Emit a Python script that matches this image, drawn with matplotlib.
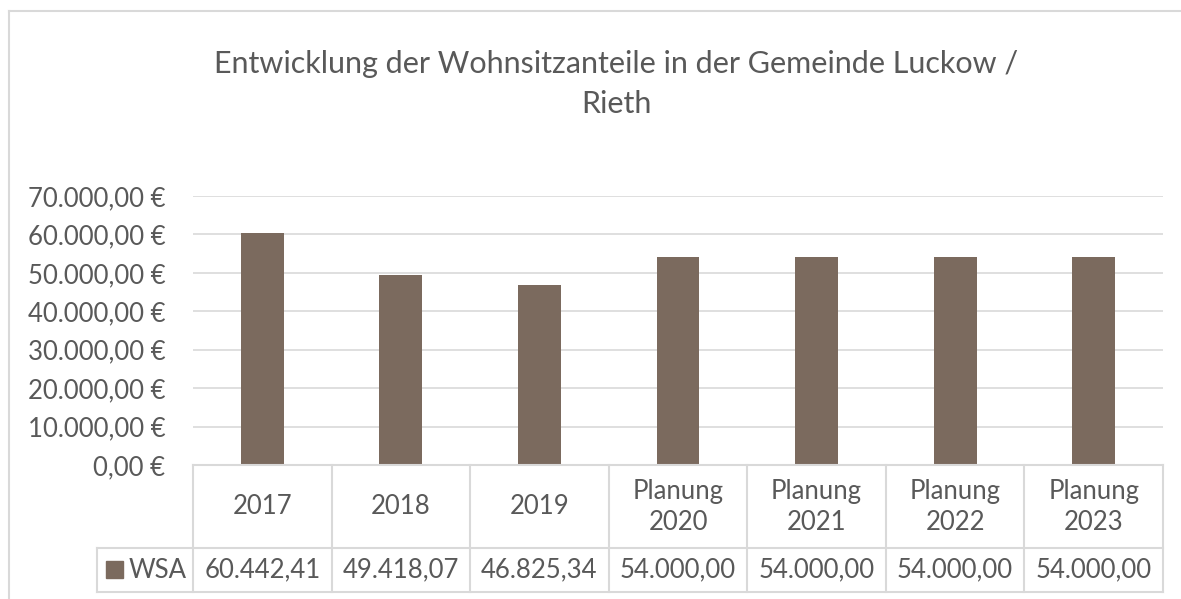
import matplotlib.pyplot as plt
import matplotlib.ticker as mticker
from matplotlib.lines import Line2D
from matplotlib.patches import Rectangle

# data
kategorien = ['2017', '2018', '2019', 'Planung\n2020', 'Planung\n2021', 'Planung\n2022', 'Planung\n2023']
wsa = [60442.41, 49418.07, 46825.34, 54000.00, 54000.00, 54000.00, 54000.00]
serie = 'WSA'
titel = 'Entwicklung der Wohnsitzanteile in der Gemeinde Luckow /\nRieth'

plt.rcParams['font.family'] = ['Lato', 'DejaVu Sans']
W, H = 1181, 599
grau = '#595959'
linie = '#D9D9D9'
farbe = '#7B6A5E'
fs = 18.5

def fx(px):
    return px / W

def fy(py):
    return 1 - py / H

def de(v, euro=True):
    s = f'{v:,.2f}'.replace(',', 'X').replace('.', ',').replace('X', '.')
    return s + ' €' if euro else s

fig = plt.figure(figsize=(W / 100, H / 100), dpi=100)

# plot area in pixel coords
x0, x1, ytop, ybot = 193, 1163, 196, 465
ax = fig.add_axes([fx(x0), fy(ybot), fx(x1 - x0), (ybot - ytop) / H])
pos = range(len(wsa))
ax.bar(pos, wsa, width=0.31, color=farbe, zorder=3)
ax.set_xlim(-0.5, len(wsa) - 0.5)
ax.set_ylim(0, 70000)
ax.yaxis.set_major_locator(mticker.MultipleLocator(10000))
ax.yaxis.set_major_formatter(mticker.FuncFormatter(lambda v, p: de(v)))
ax.grid(axis='y', color=linie, linewidth=1.2, zorder=0)
for s in ax.spines.values():
    s.set_visible(False)
ax.set_xticks([])
ax.tick_params(axis='y', length=0, pad=20, labelsize=fs, labelcolor=grau)

# outer chart border
fig.add_artist(Line2D([fx(9), fx(9)], [fy(11), 0], color=linie, linewidth=1.5))
fig.add_artist(Line2D([fx(9), 1], [fy(11), fy(11)], color=linie, linewidth=1.5))

fig.text(fx(616), fy(84), titel, ha='center', va='center', fontsize=22,
         color=grau, linespacing=1.52)

# data table below axis
yh, ym, yb = 465, 548, 592
lx = 97
colw = (x1 - x0) / len(wsa)
lk = dict(color=linie, linewidth=1.5)
fig.add_artist(Line2D([fx(x0), fx(x1)], [fy(yh), fy(yh)], **lk))
fig.add_artist(Line2D([fx(lx), fx(x1)], [fy(ym), fy(ym)], **lk))
fig.add_artist(Line2D([fx(lx), fx(x1)], [fy(yb), fy(yb)], **lk))
fig.add_artist(Line2D([fx(lx), fx(lx)], [fy(ym), fy(yb)], **lk))
for i in range(len(wsa) + 1):
    xx = x0 + i * colw
    fig.add_artist(Line2D([fx(xx), fx(xx)], [fy(yh), fy(yb)], **lk))
for i, (k, v) in enumerate(zip(kategorien, wsa)):
    xc = x0 + (i + 0.5) * colw
    fig.text(fx(xc), fy((yh + ym) / 2), k, ha='center', va='center',
             fontsize=fs, color=grau, linespacing=1.3)
    fig.text(fx(xc), fy((ym + yb) / 2), de(v, euro=False), ha='center', va='center',
             fontsize=fs, color=grau)
fig.add_artist(Rectangle((fx(106), fy(578)), fx(17), 17 / H, color=farbe))
fig.text(fx(129), fy((ym + yb) / 2), serie, ha='left', va='center', fontsize=fs, color=grau)

fig.savefig('out.png', dpi=100)
